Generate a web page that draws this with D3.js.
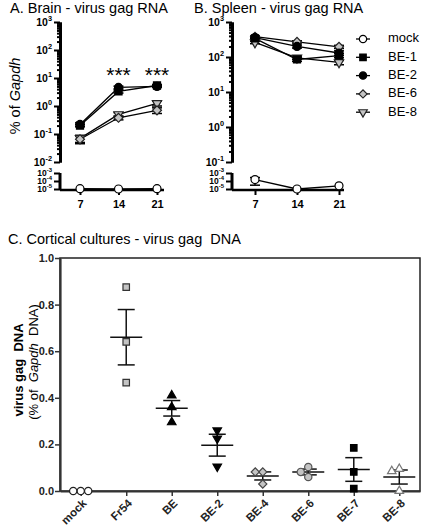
<!DOCTYPE html>
<html><head><meta charset="utf-8">
<script src="https://cdn.jsdelivr.net/npm/d3@7"></script>
<style>body{margin:0;background:#fff;} svg{display:block;font-family:"Liberation Sans",Arial,sans-serif;} text{white-space:pre;}</style>
</head><body><svg id="c" width="422" height="531"></svg>
<script>
// ---------- data ----------
const days = [7, 14, 21];
const seriesNames = ["mock", "BE-1", "BE-2", "BE-6", "BE-8"];
// Brain (% of Gapdh)
const brainMock = [1.1e-5, 1.0e-5, 1.1e-5];
const brainBE1 = [0.2, 3.3, 5.4];
const brainBE2 = [0.22, 4.6, 5.0];
const brainBE6 = [0.065, 0.38, 0.7];
const brainBE8 = [0.07, 0.5, 1.25];
const brainErrMock = [0, 0, 0];
const brainErrBE1 = [0.02, 0.4, 0.5];
const brainErrBE2 = [0.03, 0.5, 0.4];
const brainErrBE6 = [0.02, 0.06, 0.16];
const brainErrBE8 = [0.02, 0.08, 0.25];
// Spleen
const spleenMock = [1.5e-4, 1.0e-5, 2.5e-5];
const spleenBE1 = [340, 85, 110];
const spleenBE2 = [360, 200, 130];
const spleenBE6 = [380, 270, 195];
const spleenBE8 = [260, 95, 70];
const spleenErrMock = [1.2e-4, 0, 0];
const spleenErrBE1 = [30, 10, 15];
const spleenErrBE2 = [20, 20, 20];
const spleenErrBE6 = [20, 20, 20];
const spleenErrBE8 = [20, 10, 10];
const starLabels = ["", "***", "***"];
// Cortical cultures
const cultureCats = ["mock", "Fr54", "BE", "BE-2", "BE-4", "BE-6", "BE-7", "BE-8"];
const cultureMock = [0, 0, 0];
const cultureFr54 = [0.875, 0.64, 0.465];
const cultureBE = [0.41, 0.36, 0.295];
const cultureBE2 = [0.26, 0.225, 0.105];
const cultureBE4 = [0.082, 0.082, 0.03];
const cultureBE6 = [0.103, 0.082, 0.06];
const cultureBE7 = [0.185, 0.082, 0.01];
const cultureBE8 = [0.095, 0.085, 0.0];
const cultureTicks = [0, 0.2, 0.4, 0.6, 0.8, 1.0];

// ---------- styles ----------
const GRAY = "#c4c4c4";
const svg = d3.select("#c");

function marker(type, size) {
  if (type === "circle") return {d: d3.symbol(d3.symbolCircle, size)(), rot: 0};
  if (type === "square") return {d: d3.symbol(d3.symbolSquare, size)(), rot: 0};
  if (type === "diamond") return {d: d3.symbol(d3.symbolSquare, size * 0.8)(), rot: 45};
  if (type === "tri") return {d: d3.symbol(d3.symbolTriangle, size * 0.75)(), rot: 0};
  if (type === "itri") return {d: d3.symbol(d3.symbolTriangle, size * 0.75)(), rot: 180};
}
function drawMarker(g, x, y, type, fill, stroke, size) {
  const m = marker(type, size);
  g.append("path").attr("d", m.d)
    .attr("transform", `translate(${x},${y}) rotate(${m.rot})`)
    .attr("fill", fill).attr("stroke", stroke).attr("stroke-width", 1.2);
}

const lineSeriesStyle = [
  {type: "circle", fill: "#fff", stroke: "#000"},
  {type: "square", fill: "#000", stroke: "#000"},
  {type: "circle", fill: "#000", stroke: "#000"},
  {type: "diamond", fill: GRAY, stroke: "#222"},
  {type: "itri", fill: GRAY, stroke: "#222"}
];

// ---------- log panels ----------
function superLabel(g, x, y, exp, fs) {
  const t = g.append("text").attr("x", x).attr("y", y).attr("text-anchor", "end")
    .attr("font-size", fs).attr("font-weight", "bold").attr("dominant-baseline", "middle");
  t.append("tspan").text("10");
  t.append("tspan").attr("dy", -fs * 0.42).attr("font-size", fs * 0.7).text(exp);
}

function logPanel(opts) {
  const g = svg.append("g");
  const yU = d3.scaleLog().domain([opts.minU, 1e3]).range([162, 22]);
  const yL = d3.scaleLog().domain([1e-5, 1e-3]).range([189, 173]);
  const y = v => v >= opts.minU ? yU(v) : yL(Math.max(v, 1e-5));
  const x = d3.scaleLinear().domain([7, 21]).range(opts.xr);
  const ax = opts.ax;

  const majors = [];
  for (let e = Math.log10(opts.minU); e <= 3; e++) majors.push(Math.pow(10, e));
  const minors = [];
  majors.slice(0, -1).forEach(m => { for (let k = 2; k <= 9; k++) minors.push(m * k); });
  const aMaj = g.append("g").attr("transform", `translate(${ax},0)`)
    .call(d3.axisLeft(yU).tickValues(majors).tickSize(6).tickSizeOuter(0).tickFormat(""));
  const aMin = g.append("g").attr("transform", `translate(${ax},0)`)
    .call(d3.axisLeft(yU).tickValues(minors).tickSize(3).tickSizeOuter(0).tickFormat(""));
  [aMaj, aMin].forEach(a => {
    a.select(".domain").attr("stroke-width", 3).attr("stroke", "#000");
    a.selectAll(".tick line").attr("stroke-width", 2).attr("stroke", "#000");
  });
  majors.forEach(m => superLabel(g, ax - 8, yU(m) + 1, String(Math.round(Math.log10(m))), 10.5));

  const lowTicks = [1e-3, 1e-4, 1e-5];
  const aLow = g.append("g").attr("transform", `translate(${ax},0)`)
    .call(d3.axisLeft(yL).tickValues(lowTicks).tickSize(6).tickSizeOuter(0).tickFormat(""));
  aLow.select(".domain").attr("stroke-width", 3).attr("d", `M0,${yL(1e-3)}V190`);
  aLow.selectAll(".tick line").attr("stroke-width", 2);
  lowTicks.forEach(m => superLabel(g, ax - 8, yL(m) + 1, String(Math.round(Math.log10(m))), 8.5));

  g.append("line").attr("x1", ax).attr("x2", opts.xEnd).attr("y1", 190).attr("y2", 190)
    .attr("stroke", "#000").attr("stroke-width", 2.5);
  const aX = g.append("g").attr("transform", "translate(0,190)")
    .call(d3.axisBottom(x).tickValues(days).tickSize(5).tickSizeOuter(0));
  aX.select(".domain").remove();
  aX.selectAll(".tick line").attr("stroke-width", 2);
  aX.selectAll(".tick text").attr("font-size", 11).attr("font-weight", "bold").attr("dy", "0.9em").attr("fill", "#000");

  const order = [0, 4, 3, 1, 2];
  order.forEach(i => {
    const vals = opts.series[i];
    g.append("path").datum(vals)
      .attr("d", d3.line().x((d, j) => x(days[j])).y(d => y(d)))
      .attr("fill", "none").attr("stroke", "#000").attr("stroke-width", 1.3);
  });
  order.forEach(i => {
    const vals = opts.series[i], errs = opts.errs[i];
    vals.forEach((v, j) => {
      if (!errs[j]) return;
      const cx = x(days[j]);
      const lo = y(Math.max(v - errs[j], 1e-5)), hi = y(v + errs[j]);
      g.append("line").attr("x1", cx).attr("x2", cx).attr("y1", lo).attr("y2", hi).attr("stroke", "#000").attr("stroke-width", 1.3);
      [lo, hi].forEach(yy => g.append("line").attr("x1", cx - 5).attr("x2", cx + 5).attr("y1", yy).attr("y2", yy).attr("stroke", "#000").attr("stroke-width", 1.5));
    });
  });
  order.forEach(i => {
    const st = lineSeriesStyle[i];
    opts.series[i].forEach((v, j) => drawMarker(g, x(days[j]), y(v), st.type, st.fill, st.stroke, 50));
  });
  return {g, x, y};
}

const A = logPanel({
  minU: 1e-2, ax: 60, xr: [80, 157], xEnd: 164,
  series: [brainMock, brainBE1, brainBE2, brainBE6, brainBE8],
  errs: [brainErrMock, brainErrBE1, brainErrBE2, brainErrBE6, brainErrBE8]
});
starLabels.forEach((s, j) => {
  if (!s) return;
  A.g.append("text").attr("x", A.x(days[j])).attr("y", 82).attr("text-anchor", "middle")
    .attr("font-size", 21).text(s);
});
const B = logPanel({
  minU: 1e-1, ax: 232, xr: [255, 339], xEnd: 344,
  series: [spleenMock, spleenBE1, spleenBE2, spleenBE6, spleenBE8],
  errs: [spleenErrMock, spleenErrBE1, spleenErrBE2, spleenErrBE6, spleenErrBE8]
});

// titles
svg.append("text").attr("x", 10).attr("y", 13).attr("font-size", 14.5).text("A. Brain - virus gag RNA");
svg.append("text").attr("x", 194).attr("y", 13).attr("font-size", 14.5).text("B. Spleen - virus gag RNA");
svg.append("text").attr("x", 8).attr("y", 244).attr("font-size", 14.5).text("C. Cortical cultures - virus gag  DNA");

const yl = svg.append("text").attr("transform", "translate(20,96) rotate(-90)")
  .attr("text-anchor", "middle").attr("font-size", 14.5);
yl.append("tspan").text("% of ");
yl.append("tspan").attr("font-style", "italic").text("Gapdh");

// legend
const lg = svg.append("g");
seriesNames.forEach((n, i) => {
  const yy = 39 + i * 18.3;
  lg.append("line").attr("x1", 356).attr("x2", 370).attr("y1", yy).attr("y2", yy).attr("stroke", "#000").attr("stroke-width", 1.3);
  const st = lineSeriesStyle[i];
  drawMarker(lg, 363, yy, st.type, st.fill, st.stroke, 42);
  lg.append("text").attr("x", 388).attr("y", yy).attr("dominant-baseline", "middle").attr("font-size", 13).text(n);
});

// ---------- panel C ----------
const gc = svg.append("g");
const xc = d3.scalePoint().domain(cultureCats).range([60, 420]).padding(0.455);
const yc = d3.scaleLinear().domain([0, 1]).range([491, 258]);
gc.append("rect").attr("x", 60).attr("y", 258).attr("width", 360).attr("height", 233)
  .attr("fill", "none").attr("stroke", "#222").attr("stroke-width", 1.5);
const ayc = gc.append("g").attr("transform", "translate(60,0)")
  .call(d3.axisLeft(yc).tickValues(cultureTicks).tickSize(5).tickSizeOuter(0).tickFormat(d3.format(".1f")));
ayc.select(".domain").attr("stroke-width", 2.2).attr("stroke", "#333");
ayc.selectAll(".tick line").attr("stroke-width", 1.5).attr("stroke", "#333");
ayc.selectAll(".tick text").attr("font-size", 11).attr("font-weight", "bold").attr("fill", "#222").attr("x", -6);
const axc = gc.append("g").attr("transform", "translate(0,491)")
  .call(d3.axisBottom(xc).tickSize(5).tickSizeOuter(0));
axc.select(".domain").attr("stroke-width", 2.2).attr("stroke", "#333");
axc.selectAll(".tick line").attr("stroke-width", 1.5).attr("stroke", "#333");
axc.selectAll(".tick text").attr("font-size", 11.5).attr("font-weight", "bold").attr("fill", "#222")
  .attr("text-anchor", "end").attr("dy", 0).attr("y", 0)
  .attr("transform", "translate(6,13) rotate(-45)");

// y label C
svg.append("text").attr("transform", "translate(23,370) rotate(-90)")
  .attr("text-anchor", "middle").attr("font-size", 13).attr("font-weight", "bold").text("virus gag  DNA");
const ylc2 = svg.append("text").attr("transform", "translate(38,362) rotate(-90)")
  .attr("text-anchor", "middle").attr("font-size", 13);
ylc2.append("tspan").text("(% of  ");
ylc2.append("tspan").attr("font-style", "italic").text("Gapdh");
ylc2.append("tspan").text("  DNA)");

const cultureGroups = [cultureMock, cultureFr54, cultureBE, cultureBE2, cultureBE4, cultureBE6, cultureBE7, cultureBE8];
const cultureStyle = [
  {type: "circle", fill: "#fff", stroke: "#222"},
  {type: "square", fill: GRAY, stroke: "#333"},
  {type: "tri", fill: "#000", stroke: "#000"},
  {type: "itri", fill: "#000", stroke: "#000"},
  {type: "diamond", fill: GRAY, stroke: "#444"},
  {type: "circle", fill: GRAY, stroke: "#555"},
  {type: "square", fill: "#000", stroke: "#000"},
  {type: "tri", fill: "#fff", stroke: "#777"}
];
cultureGroups.forEach((vals, gi) => {
  const cx = xc(cultureCats[gi]);
  const st = cultureStyle[gi];
  if (gi > 0) {
    const m = d3.mean(vals), sem = d3.deviation(vals) / Math.sqrt(vals.length);
    const line = (x1, x2, y1, y2) => gc.append("line").attr("x1", x1).attr("x2", x2).attr("y1", y1).attr("y2", y2).attr("stroke", "#111").attr("stroke-width", 1.5);
    line(cx, cx, yc(m - sem), yc(m + sem));
    line(cx - 16, cx + 16, yc(m), yc(m));
    line(cx - 8.5, cx + 8.5, yc(m - sem), yc(m - sem));
    line(cx - 8.5, cx + 8.5, yc(m + sem), yc(m + sem));
  }
  const placed = [];
  vals.forEach(v => {
    const py = yc(v);
    const cands = [0, -7.5, 7.5, -15, 15];
    let px = cx;
    for (const o of cands) {
      if (placed.every(p => Math.hypot(p[0] - (cx + o), p[1] - py) >= 7.5)) { px = cx + o; break; }
    }
    placed.push([px, py]);
    drawMarker(gc, px, py, st.type, st.fill, st.stroke, 42);
  });
});
</script></body></html>
